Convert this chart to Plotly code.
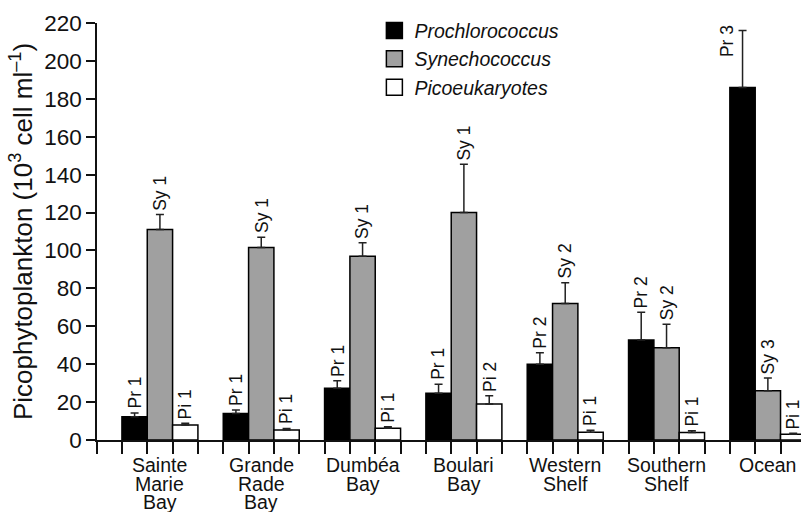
import plotly.graph_objects as go

# Sampling sites (one list entry per printed line of the axis label)
sites = [
    ["Sainte", "Marie", "Bay"],
    ["Grande", "Rade", "Bay"],
    ["Dumbéa", "Bay"],
    ["Boulari", "Bay"],
    ["Western", "Shelf"],
    ["Southern", "Shelf"],
    ["Ocean"],
]

# Mean abundances (10^3 cells ml-1) and standard errors
prochlorococcus = [12.3, 14.0, 27.3, 24.7, 40.0, 52.8, 186.0]
prochlorococcus_err = [2.0, 1.8, 4.0, 4.7, 6.0, 14.6, 30.0]
synechococcus = [111.0, 101.5, 97.0, 120.0, 72.0, 48.7, 26.0]
synechococcus_err = [8.0, 5.5, 7.0, 25.5, 11.0, 12.4, 6.7]
picoeukaryotes = [7.9, 5.3, 6.2, 19.0, 4.1, 3.9, 3.0]
picoeukaryotes_err = [1.0, 0.8, 0.8, 4.4, 1.0, 1.0, 0.5]

# Homogeneous-group labels from the post-hoc comparison
pro_groups = ["Pr 1", "Pr 1", "Pr 1", "Pr 1", "Pr 2", "Pr 2", "Pr 3"]
syn_groups = ["Sy 1", "Sy 1", "Sy 1", "Sy 1", "Sy 2", "Sy 2", "Sy 3"]
pic_groups = ["Pi 1", "Pi 1", "Pi 1", "Pi 2", "Pi 1", "Pi 1", "Pi 1"]

y_ticks = list(range(0, 221, 20))

FONT = "Liberation Sans, Arial, Helvetica, sans-serif"
BAR_W = 0.25           # width of one bar in category units
X_RANGE = [-0.621, 6.327]
Y_RANGE = [0, 220]
PLOT_H = 417           # height of the plotting area in px

series = [
    ("Prochlorococcus", prochlorococcus, prochlorococcus_err, pro_groups, "#000000", -BAR_W),
    ("Synechococcus", synechococcus, synechococcus_err, syn_groups, "#a0a0a0", 0.0),
    ("Picoeukaryotes", picoeukaryotes, picoeukaryotes_err, pic_groups, "#ffffff", BAR_W),
]

idx = list(range(len(sites)))
fig = go.Figure()

for name, vals, errs, groups, color, _ in series:
    fig.add_trace(go.Bar(
        x=idx, y=vals, name=name, showlegend=False,
        marker=dict(color=color, line=dict(color="#000000", width=1.5)),
        error_y=dict(type="data", array=errs, arrayminus=[0] * len(errs),
                     symmetric=False, color="#222222", thickness=1.5, width=4),
    ))

# Legend entries with large square swatches
for name, vals, errs, groups, color, _ in series:
    fig.add_trace(go.Scatter(
        x=[None], y=[None], mode="markers", name=name,
        marker=dict(symbol="square", size=16, color=color,
                    line=dict(color="#000000", width=1.5)),
    ))

annotations = []

# Group labels written vertically above each error bar
label_room = 38 / (PLOT_H / (Y_RANGE[1] - Y_RANGE[0]))
for name, vals, errs, groups, color, off in series:
    for i, (v, e, g) in enumerate(zip(vals, errs, groups)):
        top = v + e
        if top + label_room > Y_RANGE[1]:
            annotations.append(dict(
                x=i + off, y=top, xref="x", yref="y", text=g, showarrow=False,
                textangle=-90, xanchor="right", yanchor="top", xshift=-4, yshift=7,
                font=dict(family=FONT, size=17.5, color="#111111"),
            ))
        else:
            annotations.append(dict(
                x=i + off, y=top, xref="x", yref="y", text=g, showarrow=False,
                textangle=-90, xanchor="center", yanchor="bottom", yshift=2,
                font=dict(family=FONT, size=17.5, color="#111111"),
            ))

# Multi-line site names under each group of bars
for i, lines in enumerate(sites):
    for k, line in enumerate(lines):
        annotations.append(dict(
            x=i, y=0, xref="x", yref="y", text=line, showarrow=False,
            xanchor="center", yanchor="middle", yshift=-25 - 18.5 * k,
            font=dict(family=FONT, size=19.5, color="#111111"),
        ))

# Tick marks at every bar edge along the category axis
edge_ticks = [X_RANGE[0] + 1e-4]
for i in idx:
    edge_ticks += [i - 1.5 * BAR_W, i - 0.5 * BAR_W, i + 0.5 * BAR_W, i + 1.5 * BAR_W]

fig.update_layout(
    width=801, height=512,
    margin=dict(l=97, r=0, t=23, b=72, pad=0),
    paper_bgcolor="#ffffff", plot_bgcolor="#ffffff",
    barmode="group", bargap=0.25, bargroupgap=0,
    font=dict(family=FONT, color="#111111"),
    xaxis=dict(
        range=X_RANGE, tickvals=edge_ticks, ticktext=[""] * len(edge_ticks),
        ticks="outside", ticklen=12, tickwidth=1.5, tickcolor="#111111",
        showline=True, linewidth=1.5, linecolor="#111111",
        showgrid=False, zeroline=False,
    ),
    yaxis=dict(
        range=Y_RANGE, tickvals=y_ticks,
        ticks="outside", ticklen=9, tickwidth=1.5, tickcolor="#111111",
        tickfont=dict(family=FONT, size=22.5, color="#111111"),
        showline=True, linewidth=1.5, linecolor="#111111",
        showgrid=False, zeroline=False,
        title=dict(text="Picophytoplankton (10<sup>3</sup> cell ml<sup>–1</sup>)",
                   font=dict(family=FONT, size=26, color="#111111"), standoff=4),
    ),
    legend=dict(
        x=0.394, y=1.028, xanchor="left", yanchor="top",
        bgcolor="rgba(0,0,0,0)", itemsizing="trace",
        font=dict(family=FONT, size=19.5, style="italic", color="#111111"),
    ),
    annotations=annotations,
)

fig.write_html("out.html")
